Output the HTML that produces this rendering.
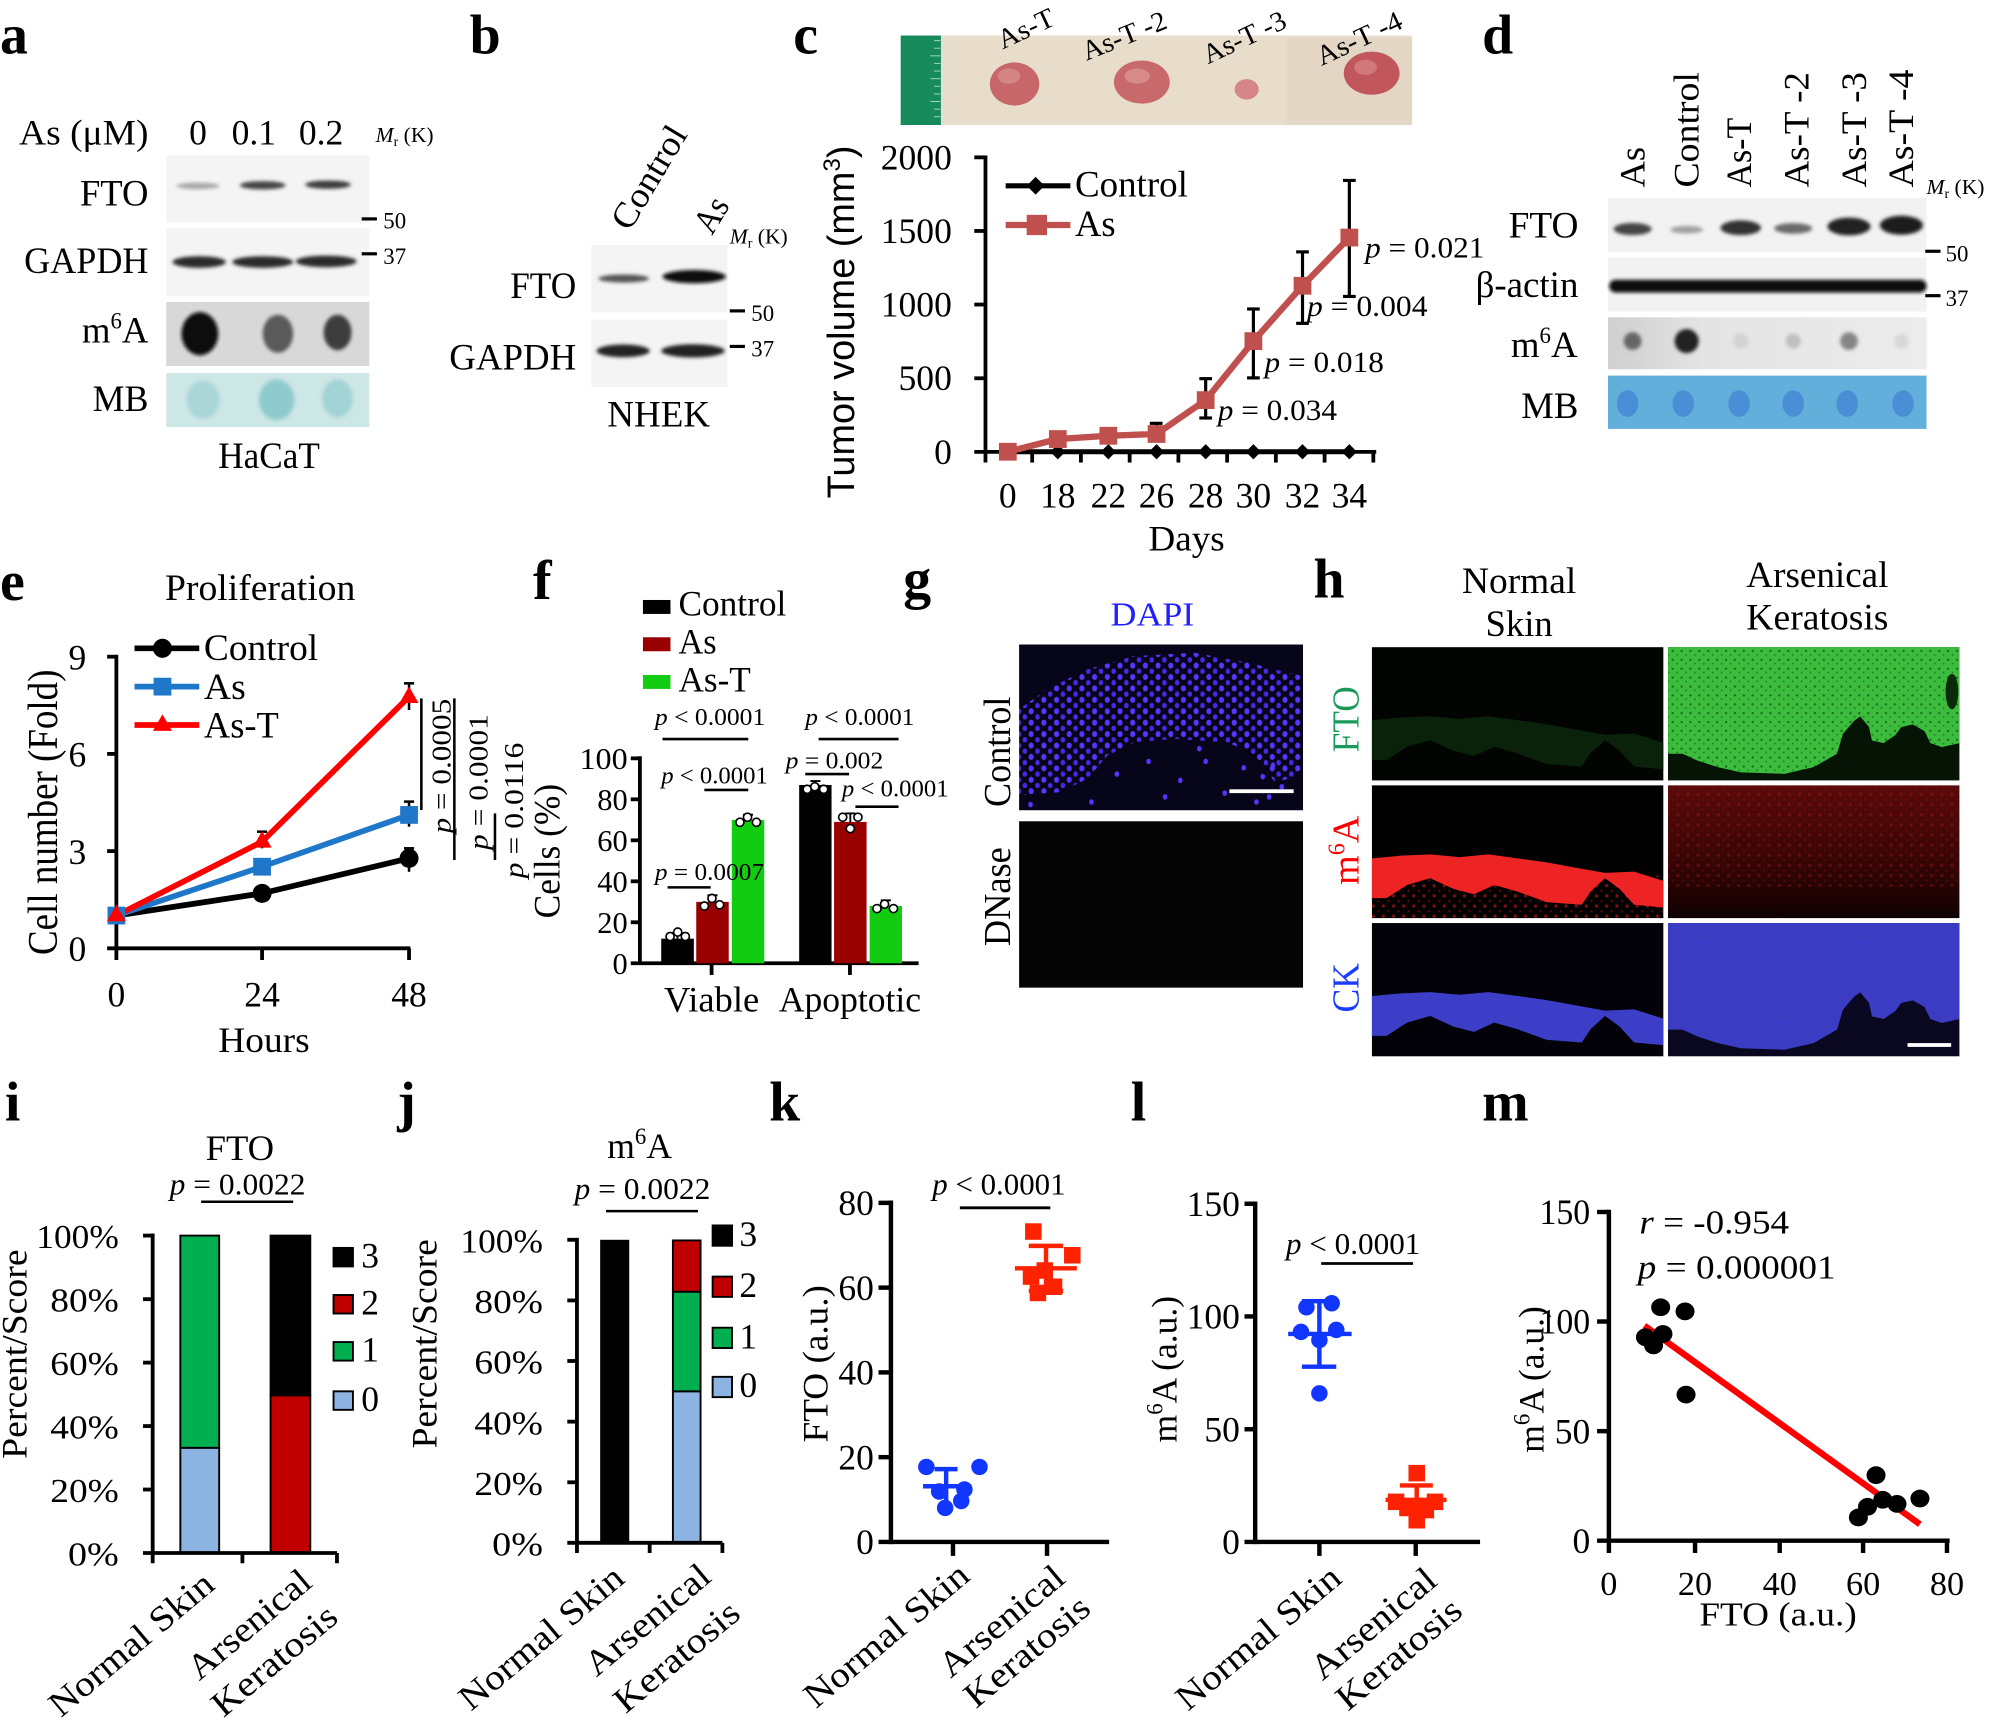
<!DOCTYPE html>
<html><head><meta charset="utf-8">
<style>
html,body{margin:0;padding:0;background:#fff;}
svg{display:block;}
text{font-family:"Liberation Serif","DejaVu Serif",serif;fill:#000;}
.s{font-family:"Liberation Sans","DejaVu Sans",sans-serif;}
.L{font-weight:bold;font-size:44px;}
</style></head><body>
<svg xmlns="http://www.w3.org/2000/svg" width="1990" height="1722" viewBox="0 0 1568 1357" preserveAspectRatio="none">
<defs>
<filter id="bl" x="-30%" y="-100%" width="160%" height="300%"><feGaussianBlur stdDeviation="1.4"/></filter>
<filter id="bl2" x="-50%" y="-50%" width="200%" height="200%"><feGaussianBlur stdDeviation="2.2"/></filter>
<pattern id="dapi" width="10" height="9" patternUnits="userSpaceOnUse">
<ellipse cx="2.5" cy="2.5" rx="2" ry="2.4" fill="#5b35ff"/>
<ellipse cx="7.5" cy="7" rx="1.8" ry="2.2" fill="#4a28e8"/>
</pattern>
<pattern id="gsp" width="7" height="7" patternUnits="userSpaceOnUse">
<rect width="7" height="7" fill="#3cbc3c"/>
<circle cx="2" cy="2" r="0.9" fill="#1d6a1d"/>
<circle cx="5.5" cy="5" r="0.7" fill="#237523"/>
</pattern>
<pattern id="rsp" width="8" height="8" patternUnits="userSpaceOnUse">
<circle cx="2" cy="2" r="1.3" fill="#c81c1c" opacity="0.6"/>
<circle cx="6" cy="6" r="1" fill="#a01010" opacity="0.5"/>
</pattern>
<pattern id="bsp" width="7" height="7" patternUnits="userSpaceOnUse">
<rect width="7" height="7" fill="#3a3cc4"/>
<circle cx="3" cy="3" r="0.8" fill="#4a3aa8"/>
</pattern>
<linearGradient id="rg" x1="0" y1="0" x2="0" y2="1">
<stop offset="0" stop-color="#5a0a0a"/><stop offset="0.6" stop-color="#360505"/><stop offset="1" stop-color="#100101"/>
</linearGradient>
<linearGradient id="m6g" x1="0" y1="0" x2="1" y2="0">
<stop offset="0" stop-color="#cfcfcf"/><stop offset="0.3" stop-color="#e4e4e4"/><stop offset="1" stop-color="#ececec"/>
</linearGradient>
</defs>

<!-- ================= Panel a ================= -->
<text x="0" y="42" class="L">a</text>
<text x="15" y="114" font-size="28" textLength="102" lengthAdjust="spacingAndGlyphs">As (μM)</text>
<text x="156" y="114" font-size="28" text-anchor="middle">0</text>
<text x="200" y="114" font-size="28" text-anchor="middle">0.1</text>
<text x="253" y="114" font-size="28" text-anchor="middle">0.2</text>
<text x="296" y="112" font-size="17"><tspan font-style="italic">M</tspan><tspan font-size="11" dy="3">r</tspan><tspan dy="-3"> (K)</tspan></text>

<rect x="131" y="122.5" width="160" height="53" fill="#f4f4f4"/>
<ellipse cx="156" cy="146.5" rx="17" ry="2.6" fill="#a8a8a8" filter="url(#bl)"/>
<ellipse cx="207" cy="146" rx="18" ry="3.3" fill="#444" filter="url(#bl)"/>
<ellipse cx="258.5" cy="145.5" rx="18" ry="3.3" fill="#3c3c3c" filter="url(#bl)"/>
<rect x="131" y="180" width="160" height="53.5" fill="#f4f4f4"/>
<ellipse cx="157" cy="206.5" rx="21" ry="4.6" fill="#2a2a2a" filter="url(#bl)"/>
<ellipse cx="207" cy="206.5" rx="24" ry="4.6" fill="#2a2a2a" filter="url(#bl)"/>
<ellipse cx="257" cy="206" rx="24" ry="4.6" fill="#2a2a2a" filter="url(#bl)"/>
<rect x="131" y="238" width="160" height="50.5" fill="#d8d8d8"/>
<ellipse cx="157.5" cy="263" rx="14.5" ry="17" fill="#0e0e0e" filter="url(#bl)"/>
<ellipse cx="219" cy="263" rx="12" ry="15" fill="#5a5a5a" filter="url(#bl)"/>
<ellipse cx="266" cy="262" rx="11" ry="14" fill="#3c3c3c" filter="url(#bl)"/>
<rect x="131" y="294" width="160" height="42.5" fill="#cde6e6"/>
<ellipse cx="160" cy="315" rx="13" ry="15" fill="#aad6d8" filter="url(#bl)"/>
<ellipse cx="218" cy="315" rx="14" ry="16" fill="#8fcbce" filter="url(#bl)"/>
<ellipse cx="266" cy="314" rx="12" ry="15" fill="#a2d3d5" filter="url(#bl)"/>

<text x="117" y="162" font-size="29" text-anchor="end" textLength="54" lengthAdjust="spacingAndGlyphs">FTO</text>
<text x="117" y="215" font-size="29" text-anchor="end" textLength="98" lengthAdjust="spacingAndGlyphs">GAPDH</text>
<text x="117" y="270" font-size="29" text-anchor="end">m<tspan font-size="18" dy="-11">6</tspan><tspan dy="11">A</tspan></text>
<text x="117" y="324" font-size="29" text-anchor="end" textLength="44" lengthAdjust="spacingAndGlyphs">MB</text>
<line x1="285" y1="172.5" x2="297" y2="172.5" stroke="#000" stroke-width="2.5"/>
<text x="302" y="180" font-size="18">50</text>
<line x1="285" y1="200" x2="297" y2="200" stroke="#000" stroke-width="2.5"/>
<text x="302" y="208" font-size="18">37</text>
<text x="212" y="369" font-size="29" text-anchor="middle" textLength="80" lengthAdjust="spacingAndGlyphs">HaCaT</text>

<!-- ================= Panel b ================= -->
<text x="370" y="42" class="L">b</text>
<text transform="translate(496,183) rotate(-59)" font-size="28" textLength="90" lengthAdjust="spacingAndGlyphs">Control</text>
<text transform="translate(561,186) rotate(-59)" font-size="28" textLength="28" lengthAdjust="spacingAndGlyphs">As</text>
<text x="575" y="192" font-size="17"><tspan font-style="italic">M</tspan><tspan font-size="11" dy="3">r</tspan><tspan dy="-3"> (K)</tspan></text>
<rect x="466" y="193" width="107" height="53" fill="#f4f4f4"/>
<ellipse cx="491.5" cy="219.5" rx="20" ry="3.2" fill="#555" filter="url(#bl)"/>
<ellipse cx="547" cy="218" rx="25" ry="5.2" fill="#111" filter="url(#bl)"/>
<rect x="466" y="252" width="107" height="53" fill="#f4f4f4"/>
<ellipse cx="491" cy="276.5" rx="21" ry="5" fill="#222" filter="url(#bl)"/>
<ellipse cx="546" cy="276.5" rx="25" ry="5.2" fill="#222" filter="url(#bl)"/>
<text x="454" y="235" font-size="29" text-anchor="end" textLength="52" lengthAdjust="spacingAndGlyphs">FTO</text>
<text x="454" y="291" font-size="29" text-anchor="end" textLength="100" lengthAdjust="spacingAndGlyphs">GAPDH</text>
<line x1="575" y1="245" x2="587" y2="245" stroke="#000" stroke-width="2.5"/>
<text x="592" y="253" font-size="18">50</text>
<line x1="575" y1="273" x2="587" y2="273" stroke="#000" stroke-width="2.5"/>
<text x="592" y="281" font-size="18">37</text>
<text x="519" y="336" font-size="29" text-anchor="middle" textLength="81" lengthAdjust="spacingAndGlyphs">NHEK</text>

<!-- ================= Panel c ================= -->
<text x="625" y="42" class="L">c</text>
<rect x="709.7" y="28" width="403" height="70.5" fill="#e8dccb"/>
<rect x="1014" y="30" width="98.5" height="68.5" fill="#e3d6c4"/>
<rect x="709.7" y="28" width="31.7" height="70.5" fill="#178a5c"/>
<g stroke="#9fd2b8" stroke-width="0.8">
<line x1="736" y1="32" x2="741" y2="32"/><line x1="736" y1="38" x2="741" y2="38"/><line x1="733" y1="44" x2="741" y2="44"/><line x1="736" y1="50" x2="741" y2="50"/><line x1="736" y1="56" x2="741" y2="56"/><line x1="733" y1="62" x2="741" y2="62"/><line x1="736" y1="68" x2="741" y2="68"/><line x1="736" y1="74" x2="741" y2="74"/><line x1="733" y1="80" x2="741" y2="80"/><line x1="736" y1="86" x2="741" y2="86"/><line x1="736" y1="92" x2="741" y2="92"/>
</g>
<ellipse cx="799.4" cy="66.2" rx="19.5" ry="17" fill="#c7676a"/>
<ellipse cx="795" cy="60" rx="9" ry="6" fill="#e09a9a" opacity="0.6"/>
<ellipse cx="899.7" cy="64.7" rx="22" ry="17" fill="#c8696b"/>
<ellipse cx="896" cy="60" rx="10" ry="6" fill="#e2a0a0" opacity="0.6"/>
<ellipse cx="982.3" cy="70.4" rx="9.5" ry="8" fill="#d6858a"/>
<ellipse cx="1080.8" cy="57.7" rx="22" ry="17" fill="#c2565d"/>
<ellipse cx="1076" cy="53" rx="9" ry="6" fill="#df9a9a" opacity="0.5"/>
<text transform="translate(790,39) rotate(-25)" font-size="22" textLength="47" lengthAdjust="spacingAndGlyphs">As-T</text>
<text transform="translate(856,48) rotate(-22)" font-size="22" textLength="70" lengthAdjust="spacingAndGlyphs">As-T -2</text>
<text transform="translate(951.7,50.7) rotate(-25)" font-size="22" textLength="70" lengthAdjust="spacingAndGlyphs">As-T -3</text>
<text transform="translate(1041.3,52) rotate(-25)" font-size="22" textLength="72" lengthAdjust="spacingAndGlyphs">As-T -4</text>

<text class="s" transform="translate(673,392.7) rotate(-90)" font-size="30" textLength="278" lengthAdjust="spacingAndGlyphs">Tumor volume (mm<tspan font-size="19" dy="-11">3</tspan><tspan dy="11">)</tspan></text>
<g stroke="#000" stroke-width="3" fill="none">
<line x1="776.5" y1="122.5" x2="776.5" y2="364.5"/>
<line x1="767.7" y1="356.1" x2="1084.4" y2="356.1"/>
<line x1="767.7" y1="124" x2="776.5" y2="124"/>
<line x1="767.7" y1="182" x2="776.5" y2="182"/>
<line x1="767.7" y1="240" x2="776.5" y2="240"/>
<line x1="767.7" y1="298.1" x2="776.5" y2="298.1"/>
<line x1="813.3" y1="356" x2="813.3" y2="364.5"/>
<line x1="851.7" y1="356" x2="851.7" y2="364.5"/>
<line x1="890.1" y1="356" x2="890.1" y2="364.5"/>
<line x1="928.5" y1="356" x2="928.5" y2="364.5"/>
<line x1="966.9" y1="356" x2="966.9" y2="364.5"/>
<line x1="1005.3" y1="356" x2="1005.3" y2="364.5"/>
<line x1="1043.7" y1="356" x2="1043.7" y2="364.5"/>
<line x1="1082.1" y1="356" x2="1082.1" y2="364.5"/>
</g>
<g font-size="28" text-anchor="end">
<text x="750" y="133.5" textLength="56" lengthAdjust="spacingAndGlyphs">2000</text>
<text x="750" y="191.5" textLength="56" lengthAdjust="spacingAndGlyphs">1500</text>
<text x="750" y="249.5" textLength="56" lengthAdjust="spacingAndGlyphs">1000</text>
<text x="750" y="307.5" textLength="42" lengthAdjust="spacingAndGlyphs">500</text>
<text x="750" y="365.5">0</text>
</g>
<g font-size="28" text-anchor="middle">
<text x="794.1" y="400">0</text><text x="833.5" y="400">18</text><text x="873.3" y="400">22</text><text x="911.3" y="400">26</text>
<text x="950" y="400">28</text><text x="987.6" y="400">30</text><text x="1026.3" y="400">32</text><text x="1063.2" y="400">34</text>
<text x="935" y="434" textLength="60" lengthAdjust="spacingAndGlyphs">Days</text>
</g>
<line x1="794.1" y1="356" x2="1063.2" y2="356" stroke="#000" stroke-width="4"/>
<g fill="#000">
<path d="M833.5,350 l6,6 l-6,6 l-6,-6z"/><path d="M873.3,350 l6,6 l-6,6 l-6,-6z"/><path d="M911.3,350 l6,6 l-6,6 l-6,-6z"/><path d="M950,350 l6,6 l-6,6 l-6,-6z"/><path d="M987.6,350 l6,6 l-6,6 l-6,-6z"/><path d="M1026.3,350 l6,6 l-6,6 l-6,-6z"/><path d="M1063.2,350 l6,6 l-6,6 l-6,-6z"/>
</g>
<g stroke="#000" stroke-width="2.5">
<line x1="911.3" y1="333.6" x2="911.3" y2="342"/><line x1="906" y1="333.6" x2="916" y2="333.6"/>
<line x1="950" y1="298.4" x2="950" y2="329.4"/><line x1="945" y1="298.4" x2="955" y2="298.4"/><line x1="945" y1="329.4" x2="955" y2="329.4"/>
<line x1="987.6" y1="243.5" x2="987.6" y2="297.8"/><line x1="982.6" y1="243.5" x2="992.6" y2="243.5"/><line x1="982.6" y1="297.8" x2="992.6" y2="297.8"/>
<line x1="1026.3" y1="198.5" x2="1026.3" y2="254.8"/><line x1="1021.3" y1="198.5" x2="1031.3" y2="198.5"/><line x1="1021.3" y1="254.8" x2="1031.3" y2="254.8"/>
<line x1="1063.2" y1="142.2" x2="1063.2" y2="233.6"/><line x1="1058.2" y1="142.2" x2="1068.2" y2="142.2"/><line x1="1058.2" y1="233.6" x2="1068.2" y2="233.6"/>
</g>
<polyline points="794.1,356 833.5,346 873.3,343.4 911.3,342 950,315.3 987.6,268.8 1026.3,225.2 1063.2,187.2" fill="none" stroke="#c0504d" stroke-width="5"/>
<g fill="#c0504d">
<rect x="787.1" y="349" width="14" height="14"/><rect x="826.5" y="339" width="14" height="14"/><rect x="866.3" y="336.4" width="14" height="14"/><rect x="904.3" y="335" width="14" height="14"/>
<rect x="943" y="308.3" width="14" height="14"/><rect x="980.6" y="261.8" width="14" height="14"/><rect x="1019.3" y="218.2" width="14" height="14"/><rect x="1056.2" y="180.2" width="14" height="14"/>
</g>
<g font-size="23">
<text x="1075.6" y="203" textLength="94" lengthAdjust="spacingAndGlyphs"><tspan font-style="italic">p</tspan> = 0.021</text>
<text x="1029.8" y="249" textLength="95" lengthAdjust="spacingAndGlyphs"><tspan font-style="italic">p</tspan> = 0.004</text>
<text x="996.4" y="293" textLength="94" lengthAdjust="spacingAndGlyphs"><tspan font-style="italic">p</tspan> = 0.018</text>
<text x="959.5" y="331" textLength="94" lengthAdjust="spacingAndGlyphs"><tspan font-style="italic">p</tspan> = 0.034</text>
</g>
<line x1="792.4" y1="146.4" x2="843.4" y2="146.4" stroke="#000" stroke-width="4"/>
<path d="M816,139.4 l7,7 l-7,7 l-7,-7z" fill="#000"/>
<text x="847" y="155" font-size="29" textLength="89" lengthAdjust="spacingAndGlyphs">Control</text>
<line x1="792.4" y1="177.3" x2="843.4" y2="177.3" stroke="#c0504d" stroke-width="5"/>
<rect x="809" y="169.3" width="16" height="16" fill="#c0504d"/>
<text x="847" y="186" font-size="29" textLength="32" lengthAdjust="spacingAndGlyphs">As</text>

<!-- ================= Panel d ================= -->
<text x="1167.8" y="42" class="L">d</text>
<g font-size="28">
<text transform="translate(1295.7,147.8) rotate(-90)" textLength="32" lengthAdjust="spacingAndGlyphs">As</text>
<text transform="translate(1338.3,147.8) rotate(-90)" textLength="91" lengthAdjust="spacingAndGlyphs">Control</text>
<text transform="translate(1379.6,147.8) rotate(-90)" textLength="55" lengthAdjust="spacingAndGlyphs">As-T</text>
<text transform="translate(1424.9,147.8) rotate(-90)" textLength="91" lengthAdjust="spacingAndGlyphs">As-T -2</text>
<text transform="translate(1470.2,147.8) rotate(-90)" textLength="91" lengthAdjust="spacingAndGlyphs">As-T -3</text>
<text transform="translate(1507.5,147.8) rotate(-90)" textLength="93" lengthAdjust="spacingAndGlyphs">As-T -4</text>
</g>
<text x="1518" y="153" font-size="17"><tspan font-style="italic">M</tspan><tspan font-size="11" dy="3">r</tspan><tspan dy="-3"> (K)</tspan></text>
<rect x="1267" y="156" width="251" height="42.5" fill="#f2f2f2"/>
<ellipse cx="1286.4" cy="180.5" rx="15" ry="4.8" fill="#444" filter="url(#bl)"/>
<ellipse cx="1329" cy="181" rx="13" ry="3" fill="#a0a0a0" filter="url(#bl)"/>
<ellipse cx="1371.6" cy="179.5" rx="16" ry="5.8" fill="#333" filter="url(#bl)"/>
<ellipse cx="1413" cy="180" rx="15" ry="4.2" fill="#6a6a6a" filter="url(#bl)"/>
<ellipse cx="1456.9" cy="178.5" rx="17" ry="7" fill="#222" filter="url(#bl)"/>
<ellipse cx="1498.2" cy="177.5" rx="17" ry="7.5" fill="#1c1c1c" filter="url(#bl)"/>
<rect x="1267" y="203" width="251" height="42.5" fill="#f2f2f2"/>
<rect x="1268" y="220.5" width="250" height="10" rx="5" fill="#111" filter="url(#bl)"/>
<rect x="1267" y="250" width="251" height="41" fill="url(#m6g)"/>
<circle cx="1286.4" cy="268.8" r="7" fill="#666" filter="url(#bl)"/>
<circle cx="1329" cy="268.8" r="9.5" fill="#222" filter="url(#bl)"/>
<circle cx="1371.6" cy="268.8" r="6" fill="#d2d2d2" filter="url(#bl)"/>
<circle cx="1413" cy="268.8" r="6" fill="#c0c0c0" filter="url(#bl)"/>
<circle cx="1456.9" cy="268.8" r="7" fill="#858585" filter="url(#bl)"/>
<circle cx="1498.2" cy="268.8" r="6" fill="#d8d8d8" filter="url(#bl)"/>
<rect x="1267" y="296" width="251" height="42" fill="#63afdc"/>
<g fill="#4a8fd6">
<ellipse cx="1282.4" cy="318" rx="8.5" ry="10.5"/><ellipse cx="1326.3" cy="318" rx="8.5" ry="10.5"/><ellipse cx="1370.3" cy="318" rx="8.5" ry="10.5"/>
<ellipse cx="1412.9" cy="318" rx="8.5" ry="10.5"/><ellipse cx="1455.5" cy="318" rx="8.5" ry="10.5"/><ellipse cx="1499.5" cy="318" rx="8.5" ry="10.5"/>
</g>
<text x="1243.7" y="187" font-size="29" text-anchor="end" textLength="55" lengthAdjust="spacingAndGlyphs">FTO</text>
<text x="1243.7" y="234" font-size="29" text-anchor="end" textLength="81" lengthAdjust="spacingAndGlyphs">β-actin</text>
<text x="1243" y="281.5" font-size="29" text-anchor="end">m<tspan font-size="18" dy="-11">6</tspan><tspan dy="11">A</tspan></text>
<text x="1243.7" y="329.5" font-size="29" text-anchor="end" textLength="45" lengthAdjust="spacingAndGlyphs">MB</text>
<line x1="1517" y1="198" x2="1529" y2="198" stroke="#000" stroke-width="2.5"/>
<text x="1533" y="206" font-size="18">50</text>
<line x1="1517" y1="233" x2="1529" y2="233" stroke="#000" stroke-width="2.5"/>
<text x="1533" y="241" font-size="18">37</text>

<!-- ================= Panel e ================= -->
<text x="0" y="473" class="L">e</text>
<text x="205" y="473" font-size="29" text-anchor="middle" textLength="150" lengthAdjust="spacingAndGlyphs">Proliferation</text>
<text transform="translate(45,752.6) rotate(-90)" font-size="33" textLength="225" lengthAdjust="spacingAndGlyphs">Cell number (Fold)</text>
<g stroke="#000" stroke-width="3">
<line x1="91.7" y1="516" x2="91.7" y2="756.5"/>
<line x1="84.4" y1="747.3" x2="323.3" y2="747.3"/>
<line x1="84.4" y1="517.5" x2="91.7" y2="517.5"/>
<line x1="84.4" y1="594.1" x2="91.7" y2="594.1"/>
<line x1="84.4" y1="670.7" x2="91.7" y2="670.7"/>
<line x1="206.5" y1="747.3" x2="206.5" y2="756.5"/>
<line x1="322.3" y1="747.3" x2="322.3" y2="756.5"/>
</g>
<g font-size="28" text-anchor="end">
<text x="68" y="527.5">9</text><text x="68" y="604.1">6</text><text x="68" y="680.7">3</text><text x="68" y="757.3">0</text>
</g>
<g font-size="28" text-anchor="middle">
<text x="91.7" y="793">0</text><text x="206.5" y="793">24</text><text x="322.3" y="793">48</text>
<text x="208" y="829" textLength="72" lengthAdjust="spacingAndGlyphs">Hours</text>
</g>
<g stroke="#000" stroke-width="2">
<line x1="322.3" y1="668.5" x2="322.3" y2="687"/><line x1="318.3" y1="668.5" x2="326.3" y2="668.5"/>
<line x1="322.3" y1="631.7" x2="322.3" y2="651.4"/><line x1="318.3" y1="631.7" x2="326.3" y2="631.7"/>
<line x1="322.3" y1="538.5" x2="322.3" y2="559.5"/><line x1="318.3" y1="538.5" x2="326.3" y2="538.5"/>
<line x1="206.5" y1="655.4" x2="206.5" y2="668.5"/><line x1="202.5" y1="655.4" x2="210.5" y2="655.4"/>
</g>
<polyline points="91.7,721.5 206.5,704 322.3,676.4" fill="none" stroke="#000" stroke-width="4.5"/>
<polyline points="91.7,721.5 206.5,683 322.3,642.2" fill="none" stroke="#1f77c9" stroke-width="4.5"/>
<polyline points="91.7,721.5 206.5,663.3 322.3,549" fill="none" stroke="#ff0000" stroke-width="4.5"/>
<circle cx="206.5" cy="704" r="7.5" fill="#000"/><circle cx="322.3" cy="676.4" r="7.5" fill="#000"/>
<rect x="199.5" y="676" width="14" height="14" fill="#1f77c9"/><rect x="315.3" y="635.2" width="14" height="14" fill="#1f77c9"/>
<rect x="84.7" y="714.5" width="14" height="14" fill="#1f77c9"/>
<path d="M206.5,655 l7.5,13 h-15z" fill="#ff0000"/><path d="M322.3,541 l7.5,13 h-15z" fill="#ff0000"/>
<path d="M91.7,713 l7.5,13 h-15z" fill="#ff0000"/>
<line x1="106" y1="510.9" x2="157" y2="510.9" stroke="#000" stroke-width="4.5"/>
<circle cx="128" cy="510.9" r="7.5" fill="#000"/>
<text x="160.7" y="520" font-size="29" textLength="90" lengthAdjust="spacingAndGlyphs">Control</text>
<line x1="106" y1="541.1" x2="157" y2="541.1" stroke="#1f77c9" stroke-width="4.5"/>
<rect x="121" y="534.1" width="14" height="14" fill="#1f77c9"/>
<text x="160.7" y="551" font-size="29" textLength="33" lengthAdjust="spacingAndGlyphs">As</text>
<line x1="106" y1="571.3" x2="157" y2="571.3" stroke="#ff0000" stroke-width="4.5"/>
<path d="M128,563 l7.5,13 h-15z" fill="#ff0000"/>
<text x="160.7" y="581" font-size="29" textLength="59" lengthAdjust="spacingAndGlyphs">As-T</text>
<g stroke="#000" stroke-width="2">
<line x1="332" y1="550.3" x2="332" y2="638.3"/>
<line x1="358" y1="550.3" x2="358" y2="677.7"/>
<line x1="390" y1="641" x2="390" y2="677.7"/>
</g>
<g font-size="22">
<text transform="translate(355,656.7) rotate(-90)" textLength="106" lengthAdjust="spacingAndGlyphs"><tspan font-style="italic">p</tspan> = 0.0005</text>
<text transform="translate(384,669.8) rotate(-90)" textLength="107" lengthAdjust="spacingAndGlyphs"><tspan font-style="italic">p</tspan> = 0.0001</text>
<text transform="translate(412,692.2) rotate(-90)" textLength="107" lengthAdjust="spacingAndGlyphs"><tspan font-style="italic">p</tspan> = 0.0116</text>
</g>

<!-- ================= Panel f ================= -->
<text x="420" y="472" class="L">f</text>
<rect x="506.6" y="472.8" width="21.7" height="11" fill="#000"/>
<text x="534.6" y="485" font-size="28" textLength="85" lengthAdjust="spacingAndGlyphs">Control</text>
<rect x="506.6" y="502.2" width="21.7" height="11" fill="#990000"/>
<text x="534.6" y="515" font-size="28" textLength="30" lengthAdjust="spacingAndGlyphs">As</text>
<rect x="506.6" y="531.9" width="21.7" height="11" fill="#11cc11"/>
<text x="534.6" y="545" font-size="28" textLength="57" lengthAdjust="spacingAndGlyphs">As-T</text>
<text transform="translate(441,723.7) rotate(-90)" font-size="29" textLength="106" lengthAdjust="spacingAndGlyphs">Cells (%)</text>
<g stroke="#000" stroke-width="3">
<line x1="504.2" y1="596" x2="504.2" y2="760"/>
<line x1="497" y1="759.1" x2="723.8" y2="759.1"/>
<line x1="497" y1="597.6" x2="504.2" y2="597.6"/>
<line x1="497" y1="629.9" x2="504.2" y2="629.9"/>
<line x1="497" y1="662.2" x2="504.2" y2="662.2"/>
<line x1="497" y1="694.5" x2="504.2" y2="694.5"/>
<line x1="497" y1="726.8" x2="504.2" y2="726.8"/>
<line x1="560.7" y1="759.1" x2="560.7" y2="768.3"/>
<line x1="669.7" y1="759.1" x2="669.7" y2="768.3"/>
</g>
<g font-size="24" text-anchor="end">
<text x="494.6" y="606" textLength="38" lengthAdjust="spacingAndGlyphs">100</text>
<text x="494.6" y="638.3">80</text><text x="494.6" y="670.6">60</text><text x="494.6" y="702.9">40</text><text x="494.6" y="735.2">20</text><text x="494.6" y="767.5">0</text>
</g>
<g font-size="28" text-anchor="middle">
<text x="560.7" y="797" textLength="75" lengthAdjust="spacingAndGlyphs">Viable</text>
<text x="669.7" y="797" textLength="112" lengthAdjust="spacingAndGlyphs">Apoptotic</text>
</g>
<rect x="521" y="739.7" width="25.7" height="19.4" fill="#000"/>
<rect x="548.6" y="710.7" width="25.6" height="48.4" fill="#990000"/>
<rect x="576.6" y="646.1" width="25.6" height="113" fill="#11cc11"/>
<rect x="629.7" y="618.6" width="25.5" height="140.5" fill="#000"/>
<rect x="657.2" y="647.7" width="25.6" height="111.4" fill="#990000"/>
<rect x="685.2" y="713.9" width="25.5" height="45.2" fill="#11cc11"/>
<g stroke="#000" stroke-width="1.5">
<line x1="533.8" y1="735" x2="533.8" y2="740"/><line x1="529.8" y1="735" x2="537.8" y2="735"/>
<line x1="561.4" y1="705.5" x2="561.4" y2="711"/><line x1="557.4" y1="705.5" x2="565.4" y2="705.5"/>
<line x1="589.4" y1="642" x2="589.4" y2="646.5"/><line x1="585.4" y1="642" x2="593.4" y2="642"/>
<line x1="642.5" y1="615.5" x2="642.5" y2="619"/><line x1="638.5" y1="615.5" x2="646.5" y2="615.5"/>
<line x1="670" y1="641" x2="670" y2="648"/><line x1="666" y1="641" x2="674" y2="641"/>
<line x1="698" y1="709.5" x2="698" y2="714"/><line x1="694" y1="709.5" x2="702" y2="709.5"/>
</g>
<g fill="#fff" stroke="#000" stroke-width="1.3">
<circle cx="528" cy="738" r="3.2"/><circle cx="534" cy="734.5" r="3.2"/><circle cx="540" cy="738" r="3.2"/>
<circle cx="555" cy="714" r="3.2"/><circle cx="561" cy="708" r="3.2"/><circle cx="567" cy="713" r="3.2"/>
<circle cx="583" cy="648" r="3.2"/><circle cx="589" cy="644" r="3.2"/><circle cx="596" cy="648" r="3.2"/>
<circle cx="636" cy="622" r="3.2"/><circle cx="642" cy="620" r="3.2"/><circle cx="649" cy="622" r="3.2"/>
<circle cx="664" cy="644" r="3.2"/><circle cx="670" cy="653" r="3.2"/><circle cx="676" cy="644" r="3.2"/>
<circle cx="691" cy="716" r="3.2"/><circle cx="697" cy="712.5" r="3.2"/><circle cx="704" cy="716" r="3.2"/>
</g>
<g stroke="#000" stroke-width="2">
<line x1="522" y1="582.4" x2="589.6" y2="582.4"/>
<line x1="645" y1="582.4" x2="708" y2="582.4"/>
<line x1="555" y1="622.5" x2="589.6" y2="622.5"/>
<line x1="634.5" y1="610" x2="669" y2="610"/>
<line x1="674" y1="635.7" x2="708" y2="635.7"/>
<line x1="526" y1="699.3" x2="560" y2="699.3"/>
</g>
<g font-size="19">
<text x="516" y="571.3" textLength="87" lengthAdjust="spacingAndGlyphs"><tspan font-style="italic">p</tspan> &lt; 0.0001</text>
<text x="634.5" y="571.3" textLength="86" lengthAdjust="spacingAndGlyphs"><tspan font-style="italic">p</tspan> &lt; 0.0001</text>
<text x="521" y="617.3" textLength="84" lengthAdjust="spacingAndGlyphs"><tspan font-style="italic">p</tspan> &lt; 0.0001</text>
<text x="619" y="605.5" textLength="77" lengthAdjust="spacingAndGlyphs"><tspan font-style="italic">p</tspan> = 0.002</text>
<text x="663.4" y="627.8" textLength="84" lengthAdjust="spacingAndGlyphs"><tspan font-style="italic">p</tspan> &lt; 0.0001</text>
<text x="516" y="693.5" textLength="86" lengthAdjust="spacingAndGlyphs"><tspan font-style="italic">p</tspan> = 0.0007</text>
</g>

<!-- ================= Panel g ================= -->
<text x="711.7" y="471" class="L">g</text>
<text x="908" y="493" font-size="27" text-anchor="middle" style="fill:#1f1fff" textLength="66" lengthAdjust="spacingAndGlyphs">DAPI</text>
<rect x="803" y="507.9" width="223.7" height="130.6" fill="#07051a"/>
<path d="M803,558.8 L825.1,543.1 L856.8,527.5 L893.7,517 L941.2,514.4 L983.5,522.2 L1025.7,532.7 L1025.7,611.1 L1004.6,616.3 L988.7,595.4 L967.6,585 L925.4,582.3 L893.7,585 L872.6,595.4 L856.8,613.7 L835.7,624.2 L803,626.8 Z" fill="url(#dapi)"/>
<g fill="#5a32ff">
<ellipse cx="880" cy="610" rx="1.8" ry="2.2"/><ellipse cx="905" cy="600" rx="1.8" ry="2.2"/><ellipse cx="930" cy="615" rx="1.8" ry="2.2"/><ellipse cx="950" cy="600" rx="1.8" ry="2.2"/>
<ellipse cx="918" cy="628" rx="1.8" ry="2.2"/><ellipse cx="965" cy="625" rx="1.8" ry="2.2"/><ellipse cx="990" cy="632" rx="1.8" ry="2.2"/><ellipse cx="1000" cy="628" rx="1.8" ry="2.2"/>
<ellipse cx="860" cy="632" rx="1.8" ry="2.2"/><ellipse cx="812" cy="634" rx="1.8" ry="2.2"/><ellipse cx="945" cy="590" rx="1.8" ry="2.2"/><ellipse cx="980" cy="605" rx="1.8" ry="2.2"/>
<ellipse cx="995" cy="612" rx="1.8" ry="2.2"/><ellipse cx="1003" cy="603" rx="1.8" ry="2.2"/><ellipse cx="1010" cy="620" rx="1.8" ry="2.2"/>
</g>
<rect x="968.7" y="622" width="50.6" height="3" fill="#fff"/>
<rect x="803" y="647.2" width="223.7" height="131.1" fill="#050505"/>
<text transform="translate(796,635.9) rotate(-90)" font-size="30" textLength="87" lengthAdjust="spacingAndGlyphs">Control</text>
<text transform="translate(796,745.6) rotate(-90)" font-size="30" textLength="78" lengthAdjust="spacingAndGlyphs">DNase</text>

<!-- ================= Panel h ================= -->
<text x="1035" y="471" class="L">h</text>
<g font-size="29" text-anchor="middle">
<text x="1197" y="467.4" textLength="90" lengthAdjust="spacingAndGlyphs">Normal</text>
<text x="1197" y="501.3" textLength="53" lengthAdjust="spacingAndGlyphs">Skin</text>
<text x="1432" y="462.7" textLength="112" lengthAdjust="spacingAndGlyphs">Arsenical</text>
<text x="1432" y="496.1" textLength="112" lengthAdjust="spacingAndGlyphs">Keratosis</text>
</g>
<rect x="1081" y="510" width="229.6" height="105" fill="#020402"/>
<path transform="translate(0,-108.9)" d="M1081,676.4 L1104,674.3 L1126.9,673.3 L1149.9,675.4 L1172.8,673.3 L1195.8,676.4 L1218.8,679.6 L1241.7,683.8 L1264.7,687.9 L1287.6,686.9 L1310.6,694.2 L1310.6,715.1 L1287.6,713 L1276.2,700.5 L1264.7,692.1 L1253.2,702.6 L1246.3,713 L1218.8,711 L1195.8,702.6 L1177.4,697.4 L1161.4,704.7 L1145.3,700.5 L1126.9,692.1 L1108.6,697.4 L1092.5,707.8 L1081,707.8 Z" fill="#0a220a"/>
<rect x="1314.3" y="510" width="229.6" height="105" fill="#051405"/>
<path d="M1314.3,510 L1543.9,510 L1543.9,585.6 L1530.1,588.8 L1521,585.6 L1516.4,576.2 L1507.2,570.9 L1498,573 L1493.4,579.3 L1484.2,585.6 L1475,583.5 L1472.7,573 L1465.8,564.6 L1461.2,567.8 L1452.1,578.3 L1447.5,594 L1429.1,604.5 L1406.1,609.8 L1371.7,608.7 L1353.3,604.5 L1337.3,599.3 L1325.8,594 L1314.3,594 Z" fill="url(#gsp)"/>
<ellipse cx="1538" cy="545" rx="5" ry="14" fill="#0a2a0a"/>
<rect x="1081" y="618.9" width="229.6" height="104.6" fill="#020101"/>
<rect x="1081" y="690" width="229.6" height="33.5" fill="url(#rsp)"/>
<path d="M1081,676.4 L1104,674.3 L1126.9,673.3 L1149.9,675.4 L1172.8,673.3 L1195.8,676.4 L1218.8,679.6 L1241.7,683.8 L1264.7,687.9 L1287.6,686.9 L1310.6,694.2 L1310.6,715.1 L1287.6,713 L1276.2,700.5 L1264.7,692.1 L1253.2,702.6 L1246.3,713 L1218.8,711 L1195.8,702.6 L1177.4,697.4 L1161.4,704.7 L1145.3,700.5 L1126.9,692.1 L1108.6,697.4 L1092.5,707.8 L1081,707.8 Z" fill="#ee2424"/>
<rect x="1314.3" y="618.9" width="229.6" height="104.6" fill="url(#rg)"/>
<rect x="1314.3" y="618.9" width="229.6" height="80" fill="url(#rsp)" opacity="0.5"/>
<rect x="1081" y="727.4" width="229.6" height="105" fill="#020208"/>
<path transform="translate(0,108.5)" d="M1081,676.4 L1104,674.3 L1126.9,673.3 L1149.9,675.4 L1172.8,673.3 L1195.8,676.4 L1218.8,679.6 L1241.7,683.8 L1264.7,687.9 L1287.6,686.9 L1310.6,694.2 L1310.6,715.1 L1287.6,713 L1276.2,700.5 L1264.7,692.1 L1253.2,702.6 L1246.3,713 L1218.8,711 L1195.8,702.6 L1177.4,697.4 L1161.4,704.7 L1145.3,700.5 L1126.9,692.1 L1108.6,697.4 L1092.5,707.8 L1081,707.8 Z" fill="#3c3ec8"/>
<rect x="1314.3" y="727.4" width="229.6" height="105" fill="#0a0820"/>
<path transform="translate(0,217.4)" d="M1314.3,510 L1543.9,510 L1543.9,585.6 L1530.1,588.8 L1521,585.6 L1516.4,576.2 L1507.2,570.9 L1498,573 L1493.4,579.3 L1484.2,585.6 L1475,583.5 L1472.7,573 L1465.8,564.6 L1461.2,567.8 L1452.1,578.3 L1447.5,594 L1429.1,604.5 L1406.1,609.8 L1371.7,608.7 L1353.3,604.5 L1337.3,599.3 L1325.8,594 L1314.3,594 Z" fill="url(#bsp)"/>
<rect x="1503" y="822" width="34.4" height="3" fill="#fff"/>
<text transform="translate(1070.5,592.8) rotate(-90)" font-size="30" style="fill:#1a9a5a" textLength="52" lengthAdjust="spacingAndGlyphs">FTO</text>
<text transform="translate(1070.5,697.3) rotate(-90)" font-size="30" style="fill:#ff0000">m<tspan font-size="19" dy="-11">6</tspan><tspan dy="11">A</tspan></text>
<text transform="translate(1070.5,797.9) rotate(-90)" font-size="30" style="fill:#1a3cff" textLength="39" lengthAdjust="spacingAndGlyphs">CK</text>

<!-- ================= Panel i ================= -->
<text x="3.8" y="883" class="L">i</text>
<text x="189" y="914" font-size="28" text-anchor="middle" textLength="54" lengthAdjust="spacingAndGlyphs">FTO</text>
<text x="133.7" y="941.5" font-size="24" textLength="107" lengthAdjust="spacingAndGlyphs"><tspan font-style="italic">p</tspan> = 0.0022</text>
<line x1="158.5" y1="947" x2="231" y2="947" stroke="#000" stroke-width="2"/>
<text transform="translate(21,1149.6) rotate(-90)" font-size="28" textLength="165" lengthAdjust="spacingAndGlyphs">Percent/Score</text>
<rect x="142.1" y="1140.9" width="30.6" height="82.9" fill="#8db3e2" stroke="#000" stroke-width="1.5"/>
<rect x="142.1" y="973.7" width="30.6" height="167.2" fill="#00b050" stroke="#000" stroke-width="1.5"/>
<rect x="213.2" y="1099.6" width="31.3" height="124.2" fill="#c00000" stroke="#000" stroke-width="1.5"/>
<rect x="213.2" y="973.7" width="31.3" height="125.9" fill="#000" stroke="#000" stroke-width="1.5"/>
<g stroke="#000" stroke-width="3">
<line x1="120.3" y1="972" x2="120.3" y2="1231.9"/>
<line x1="112.7" y1="1223.8" x2="265.5" y2="1223.8"/>
<line x1="112.7" y1="973.7" x2="120.3" y2="973.7"/>
<line x1="112.7" y1="1023.8" x2="120.3" y2="1023.8"/>
<line x1="112.7" y1="1073.8" x2="120.3" y2="1073.8"/>
<line x1="112.7" y1="1123.8" x2="120.3" y2="1123.8"/>
<line x1="112.7" y1="1173.8" x2="120.3" y2="1173.8"/>
<line x1="191" y1="1223.8" x2="191" y2="1231.9"/>
<line x1="265.5" y1="1223.8" x2="265.5" y2="1231.9"/>
</g>
<g font-size="27" text-anchor="end">
<text x="93.6" y="983.5" textLength="65" lengthAdjust="spacingAndGlyphs">100%</text>
<text x="93.6" y="1033.5" textLength="54" lengthAdjust="spacingAndGlyphs">80%</text>
<text x="93.6" y="1083.5" textLength="54" lengthAdjust="spacingAndGlyphs">60%</text>
<text x="93.6" y="1133.5" textLength="54" lengthAdjust="spacingAndGlyphs">40%</text>
<text x="93.6" y="1183.5" textLength="54" lengthAdjust="spacingAndGlyphs">20%</text>
<text x="93.6" y="1233.5" textLength="40" lengthAdjust="spacingAndGlyphs">0%</text>
</g>
<g stroke="#000" stroke-width="1.5">
<rect x="262.8" y="983.4" width="15.3" height="14.6" fill="#000"/>
<rect x="262.8" y="1020.5" width="15.3" height="14.6" fill="#c00000"/>
<rect x="262.8" y="1057.6" width="15.3" height="14.6" fill="#00b050"/>
<rect x="262.8" y="1096.4" width="15.3" height="14.6" fill="#8db3e2"/>
</g>
<g font-size="28">
<text x="284.6" y="999">3</text><text x="284.6" y="1036">2</text><text x="284.6" y="1073">1</text><text x="284.6" y="1112">0</text>
</g>
<g font-size="28">
<text transform="translate(48,1354) rotate(-40)" textLength="160" lengthAdjust="spacingAndGlyphs">Normal Skin</text>
<text transform="translate(157,1325) rotate(-40)" textLength="118" lengthAdjust="spacingAndGlyphs">Arsenical</text>
<text transform="translate(176,1354) rotate(-40)" textLength="120" lengthAdjust="spacingAndGlyphs">Keratosis</text>
</g>

<!-- ================= Panel j ================= -->
<text x="313" y="883" class="L">j</text>
<text x="504" y="912.4" font-size="28" text-anchor="middle">m<tspan font-size="18" dy="-11">6</tspan><tspan dy="11">A</tspan></text>
<text x="452.7" y="944.7" font-size="24" textLength="107" lengthAdjust="spacingAndGlyphs"><tspan font-style="italic">p</tspan> = 0.0022</text>
<line x1="477.5" y1="954.4" x2="550" y2="954.4" stroke="#000" stroke-width="2"/>
<text transform="translate(344,1141.5) rotate(-90)" font-size="28" textLength="165" lengthAdjust="spacingAndGlyphs">Percent/Score</text>
<rect x="472.9" y="977" width="22.9" height="238.8" fill="#000"/>
<rect x="530.2" y="1096.4" width="21.8" height="119.4" fill="#8db3e2" stroke="#000" stroke-width="1.5"/>
<rect x="530.2" y="1017.9" width="21.8" height="78.5" fill="#00b050" stroke="#000" stroke-width="1.5"/>
<rect x="530.2" y="977.5" width="21.8" height="40.4" fill="#c00000" stroke="#000" stroke-width="1.5"/>
<g stroke="#000" stroke-width="3">
<line x1="454.6" y1="975.5" x2="454.6" y2="1223.8"/>
<line x1="447" y1="1215.8" x2="569.2" y2="1215.8"/>
<line x1="447" y1="977" x2="454.6" y2="977"/>
<line x1="447" y1="1024.8" x2="454.6" y2="1024.8"/>
<line x1="447" y1="1072.5" x2="454.6" y2="1072.5"/>
<line x1="447" y1="1120.3" x2="454.6" y2="1120.3"/>
<line x1="447" y1="1168.1" x2="454.6" y2="1168.1"/>
<line x1="511.9" y1="1215.8" x2="511.9" y2="1223.8"/>
<line x1="569.2" y1="1215.8" x2="569.2" y2="1223.8"/>
</g>
<g font-size="27" text-anchor="end">
<text x="427.8" y="987" textLength="65" lengthAdjust="spacingAndGlyphs">100%</text>
<text x="427.8" y="1034.8" textLength="54" lengthAdjust="spacingAndGlyphs">80%</text>
<text x="427.8" y="1082.5" textLength="54" lengthAdjust="spacingAndGlyphs">60%</text>
<text x="427.8" y="1130.3" textLength="54" lengthAdjust="spacingAndGlyphs">40%</text>
<text x="427.8" y="1178.1" textLength="54" lengthAdjust="spacingAndGlyphs">20%</text>
<text x="427.8" y="1225.8" textLength="40" lengthAdjust="spacingAndGlyphs">0%</text>
</g>
<g stroke="#000" stroke-width="1.5">
<rect x="561.5" y="965.7" width="15.3" height="16" fill="#000"/>
<rect x="561.5" y="1006" width="15.3" height="16" fill="#c00000"/>
<rect x="561.5" y="1046.3" width="15.3" height="16" fill="#00b050"/>
<rect x="561.5" y="1085" width="15.3" height="16" fill="#8db3e2"/>
</g>
<g font-size="28">
<text x="582.6" y="982">3</text><text x="582.6" y="1022">2</text><text x="582.6" y="1062.5">1</text><text x="582.6" y="1101">0</text>
</g>
<g font-size="28">
<text transform="translate(371,1349) rotate(-40)" textLength="160" lengthAdjust="spacingAndGlyphs">Normal Skin</text>
<text transform="translate(470,1322) rotate(-40)" textLength="120" lengthAdjust="spacingAndGlyphs">Arsenical</text>
<text transform="translate(493,1351) rotate(-40)" textLength="120" lengthAdjust="spacingAndGlyphs">Keratosis</text>
</g>

<!-- ================= Panel k ================= -->
<text x="606" y="883" class="L">k</text>
<text x="734.6" y="941.5" font-size="24" textLength="105" lengthAdjust="spacingAndGlyphs"><tspan font-style="italic">p</tspan> &lt; 0.0001</text>
<line x1="756.3" y1="951.8" x2="827.6" y2="951.8" stroke="#000" stroke-width="2.2"/>
<text transform="translate(652,1136.7) rotate(-90)" font-size="28" textLength="124" lengthAdjust="spacingAndGlyphs">FTO (a.u.)</text>
<g stroke="#000" stroke-width="3.5">
<line x1="702" y1="946" x2="702" y2="1216.8"/>
<line x1="692.2" y1="1215.1" x2="873.9" y2="1215.1"/>
<line x1="692.2" y1="947.9" x2="702" y2="947.9"/>
<line x1="692.2" y1="1014.7" x2="702" y2="1014.7"/>
<line x1="692.2" y1="1081.5" x2="702" y2="1081.5"/>
<line x1="692.2" y1="1148.3" x2="702" y2="1148.3"/>
<line x1="750.9" y1="1215.1" x2="750.9" y2="1226.1"/>
<line x1="825" y1="1215.1" x2="825" y2="1226.1"/>
</g>
<g font-size="28" text-anchor="end">
<text x="688.6" y="957.5">80</text><text x="688.6" y="1024.3">60</text><text x="688.6" y="1091.1">40</text><text x="688.6" y="1157.9">20</text><text x="688.6" y="1224.7">0</text>
</g>
<g fill="#1036ff">
<circle cx="729.9" cy="1156" r="6.5"/><circle cx="771.8" cy="1156" r="6.5"/><circle cx="740" cy="1175.4" r="6.5"/>
<circle cx="759.9" cy="1173.8" r="6.5"/><circle cx="757.4" cy="1182.8" r="6.5"/><circle cx="744.7" cy="1188.3" r="6.5"/>
</g>
<g stroke="#1036ff" stroke-width="3.5">
<line x1="727.3" y1="1171.2" x2="765.3" y2="1171.2"/>
<line x1="736.4" y1="1157.7" x2="754.5" y2="1157.7"/>
<line x1="745.5" y1="1157.7" x2="745.5" y2="1184"/>
</g>
<g fill="#ff2200">
<rect x="807.7" y="964" width="13" height="13"/><rect x="838.4" y="982.7" width="13" height="13"/><rect x="811.3" y="1012.4" width="13" height="13"/>
<rect x="824" y="1007.5" width="13" height="13"/><rect x="805.9" y="999.5" width="13" height="13"/><rect x="816.7" y="994.7" width="13" height="13"/>
</g>
<g stroke="#ff2200" stroke-width="3.5">
<line x1="799.7" y1="999.5" x2="848.5" y2="999.5"/>
<line x1="810.6" y1="981.8" x2="837.7" y2="981.8"/>
<line x1="810.6" y1="1017.3" x2="837.7" y2="1017.3"/>
<line x1="824.2" y1="981.8" x2="824.2" y2="1017.3"/>
</g>
<g font-size="28">
<text transform="translate(643,1347) rotate(-40)" textLength="160" lengthAdjust="spacingAndGlyphs">Normal Skin</text>
<text transform="translate(749,1323) rotate(-40)" textLength="120" lengthAdjust="spacingAndGlyphs">Arsenical</text>
<text transform="translate(769,1347) rotate(-40)" textLength="120" lengthAdjust="spacingAndGlyphs">Keratosis</text>
</g>

<!-- ================= Panel l ================= -->
<text x="891" y="883" class="L">l</text>
<text x="1013.2" y="988.2" font-size="24" textLength="106" lengthAdjust="spacingAndGlyphs"><tspan font-style="italic">p</tspan> &lt; 0.0001</text>
<line x1="1041" y1="995.7" x2="1113.4" y2="995.7" stroke="#000" stroke-width="2.2"/>
<text transform="translate(927,1136.7) rotate(-90)" font-size="28">m<tspan font-size="18" dy="-11">6</tspan><tspan dy="11">A (a.u.)</tspan></text>
<g stroke="#000" stroke-width="3.5">
<line x1="989" y1="946.8" x2="989" y2="1216.8"/>
<line x1="980.6" y1="1215.1" x2="1166.2" y2="1215.1"/>
<line x1="980.6" y1="948.6" x2="989" y2="948.6"/>
<line x1="980.6" y1="1037.4" x2="989" y2="1037.4"/>
<line x1="980.6" y1="1126.3" x2="989" y2="1126.3"/>
<line x1="1039.6" y1="1215.1" x2="1039.6" y2="1226.1"/>
<line x1="1115.5" y1="1215.1" x2="1115.5" y2="1226.1"/>
</g>
<g font-size="28" text-anchor="end">
<text x="977" y="958.2" textLength="42" lengthAdjust="spacingAndGlyphs">150</text>
<text x="977" y="1047" textLength="42" lengthAdjust="spacingAndGlyphs">100</text>
<text x="977" y="1135.9">50</text><text x="977" y="1224.7">0</text>
</g>
<g fill="#1036ff">
<circle cx="1029.4" cy="1030.2" r="6.5"/><circle cx="1049.3" cy="1027" r="6.5"/><circle cx="1025.1" cy="1049.6" r="6.5"/>
<circle cx="1052.9" cy="1048" r="6.5"/><circle cx="1039.6" cy="1056" r="6.5"/><circle cx="1039.6" cy="1098" r="6.5"/>
</g>
<g stroke="#1036ff" stroke-width="3.5">
<line x1="1015" y1="1051.2" x2="1065" y2="1051.2"/>
<line x1="1025.8" y1="1025.4" x2="1052.9" y2="1025.4"/>
<line x1="1025.8" y1="1077" x2="1052.9" y2="1077"/>
<line x1="1039.6" y1="1025.4" x2="1039.6" y2="1077"/>
</g>
<g fill="#ff2200">
<rect x="1109.8" y="1154.4" width="13" height="13"/><rect x="1093.5" y="1177" width="13" height="13"/><rect x="1124.2" y="1177" width="13" height="13"/>
<rect x="1109.8" y="1191.5" width="13" height="13"/><rect x="1102.5" y="1181.8" width="13" height="13"/><rect x="1117" y="1183.5" width="13" height="13"/>
</g>
<g stroke="#ff2200" stroke-width="3.5">
<line x1="1091.7" y1="1181.9" x2="1139.8" y2="1181.9"/>
<line x1="1103" y1="1170.6" x2="1129" y2="1170.6"/>
<line x1="1103" y1="1193" x2="1129" y2="1193"/>
<line x1="1116.3" y1="1170.6" x2="1116.3" y2="1193"/>
</g>
<g font-size="28">
<text transform="translate(936,1349) rotate(-40)" textLength="160" lengthAdjust="spacingAndGlyphs">Normal Skin</text>
<text transform="translate(1042,1325) rotate(-40)" textLength="120" lengthAdjust="spacingAndGlyphs">Arsenical</text>
<text transform="translate(1062,1349) rotate(-40)" textLength="120" lengthAdjust="spacingAndGlyphs">Keratosis</text>
</g>

<!-- ================= Panel m ================= -->
<text x="1167.8" y="883" class="L">m</text>
<text x="1291.7" y="972" font-size="27" textLength="118" lengthAdjust="spacingAndGlyphs"><tspan font-style="italic">r</tspan> = -0.954</text>
<text x="1290.4" y="1007.6" font-size="27" textLength="156" lengthAdjust="spacingAndGlyphs"><tspan font-style="italic">p</tspan> = 0.000001</text>
<g stroke="#000" stroke-width="3.5">
<line x1="1267.7" y1="953.3" x2="1267.7" y2="1223.8"/>
<line x1="1258.4" y1="1214.1" x2="1536.2" y2="1214.1"/>
<line x1="1258.4" y1="955.1" x2="1267.7" y2="955.1"/>
<line x1="1258.4" y1="1041.4" x2="1267.7" y2="1041.4"/>
<line x1="1258.4" y1="1127.8" x2="1267.7" y2="1127.8"/>
<line x1="1335.6" y1="1214.1" x2="1335.6" y2="1223.8"/>
<line x1="1402.3" y1="1214.1" x2="1402.3" y2="1223.8"/>
<line x1="1468" y1="1214.1" x2="1468" y2="1223.8"/>
<line x1="1534.1" y1="1214.1" x2="1534.1" y2="1223.8"/>
</g>
<g font-size="28" text-anchor="end">
<text x="1253" y="964.7" textLength="40" lengthAdjust="spacingAndGlyphs">150</text>
<text x="1253" y="1051" textLength="40" lengthAdjust="spacingAndGlyphs">100</text>
<text x="1253" y="1137.4">50</text><text x="1253" y="1223.7">0</text>
</g>
<g font-size="27" text-anchor="middle">
<text x="1267.7" y="1257">0</text><text x="1335.6" y="1257">20</text><text x="1402.3" y="1257">40</text><text x="1468" y="1257">60</text><text x="1534.1" y="1257">80</text>
<text x="1401" y="1281" textLength="124" lengthAdjust="spacingAndGlyphs">FTO (a.u.)</text>
</g>
<text transform="translate(1216,1144.8) rotate(-90)" font-size="28">m<tspan font-size="18" dy="-11">6</tspan><tspan dy="11">A (a.u.)</tspan></text>
<line x1="1295.7" y1="1044.7" x2="1512.8" y2="1201.2" stroke="#ff0000" stroke-width="5"/>
<g fill="#000">
<ellipse cx="1308.5" cy="1030.2" rx="7.5" ry="7"/><ellipse cx="1327.7" cy="1033.4" rx="7.5" ry="7"/><ellipse cx="1296.5" cy="1053.8" rx="7.5" ry="7"/>
<ellipse cx="1310.3" cy="1051.2" rx="7.5" ry="7"/><ellipse cx="1302.9" cy="1060.2" rx="7.5" ry="7"/><ellipse cx="1328.5" cy="1099" rx="7.5" ry="7"/>
<ellipse cx="1478.2" cy="1162.5" rx="7.5" ry="7"/><ellipse cx="1471.5" cy="1187.4" rx="7.5" ry="7"/><ellipse cx="1464.3" cy="1195.8" rx="7.5" ry="7"/>
<ellipse cx="1483.5" cy="1181.9" rx="7.5" ry="7"/><ellipse cx="1494.7" cy="1185.1" rx="7.5" ry="7"/><ellipse cx="1512.8" cy="1180.9" rx="7.5" ry="7"/>
</g>
</svg>
</body></html>
